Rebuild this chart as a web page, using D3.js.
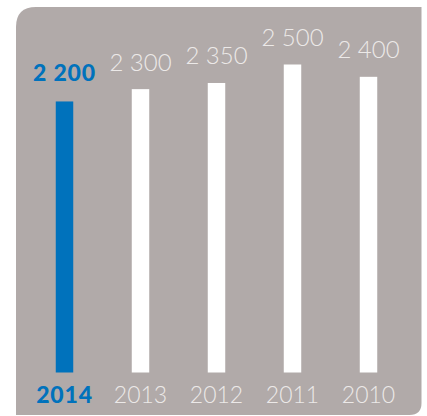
<!DOCTYPE html>
<html><head><meta charset="utf-8">
<script src="https://cdn.jsdelivr.net/npm/d3@7"></script>
<style>body{margin:0;background:#fff}svg{display:block}</style>
</head><body>
<script>
const years = ["2014","2013","2012","2011","2010"];
const values = [2200, 2300, 2350, 2500, 2400];
const valueLabels = ["2 200","2 300","2 350","2 500","2 400"];
const highlight = "2014";

const W = 427, H = 416;
const svg = d3.select("body").append("svg").attr("width", W).attr("height", H);

// panel with rounded top-left and bottom-right corners
const L = 16, T = 7, R = 421.5, B = 415, r1 = 20, r2 = 12;
const p = d3.path();
p.moveTo(L + r1, T);
p.lineTo(R, T);
p.lineTo(R, B - r2);
p.quadraticCurveTo(R, B, R - r2, B);
p.lineTo(L, B);
p.lineTo(L, T + r1);
p.quadraticCurveTo(L, T, L + r1, T);
p.closePath();
svg.append("path").attr("d", p.toString()).attr("fill", "#b1aaa9");

const x = d3.scaleBand().domain(years).range([26.5, 406.5]).paddingInner(0.77).paddingOuter(0.385);
const y = d3.scaleLinear().domain([0, 2500]).range([372.5, 64.5]);

const blue = "#0072bc", light = "#ece9e8";

svg.selectAll("rect.bar").data(years).join("rect")
  .attr("class", "bar")
  .attr("x", d => x(d))
  .attr("width", x.bandwidth())
  .attr("y", (d, i) => y(values[i]))
  .attr("height", (d, i) => y(0) - y(values[i]))
  .attr("fill", d => d === highlight ? blue : "#ffffff");

svg.selectAll("text.val").data(years).join("text")
  .attr("class", "val")
  .attr("x", d => x(d) + x.bandwidth() / 2)
  .attr("y", (d, i) => y(values[i]) - (d === highlight ? 20 : 18.5))
  .attr("text-anchor", "middle")
  .attr("font-family", "Lato, 'Open Sans', sans-serif")
  .attr("font-size", d => d === highlight ? 23 : 24)
  .attr("letter-spacing", d => d === highlight ? 0.8 : 0)
  .attr("font-weight", d => d === highlight ? 900 : 300)
  .attr("fill", d => d === highlight ? blue : light)
  .text((d, i) => valueLabels[i]);

svg.selectAll("text.yr").data(years).join("text")
  .attr("class", "yr")
  .attr("x", d => x(d) + x.bandwidth() / 2)
  .attr("y", 403)
  .attr("text-anchor", "middle")
  .attr("font-family", "Lato, 'Open Sans', sans-serif")
  .attr("font-size", 23)
  .attr("letter-spacing", d => d === highlight ? 0.8 : 0)
  .attr("font-weight", d => d === highlight ? 900 : 300)
  .attr("fill", d => d === highlight ? blue : light)
  .text(d => d);
</script>
</body></html>
